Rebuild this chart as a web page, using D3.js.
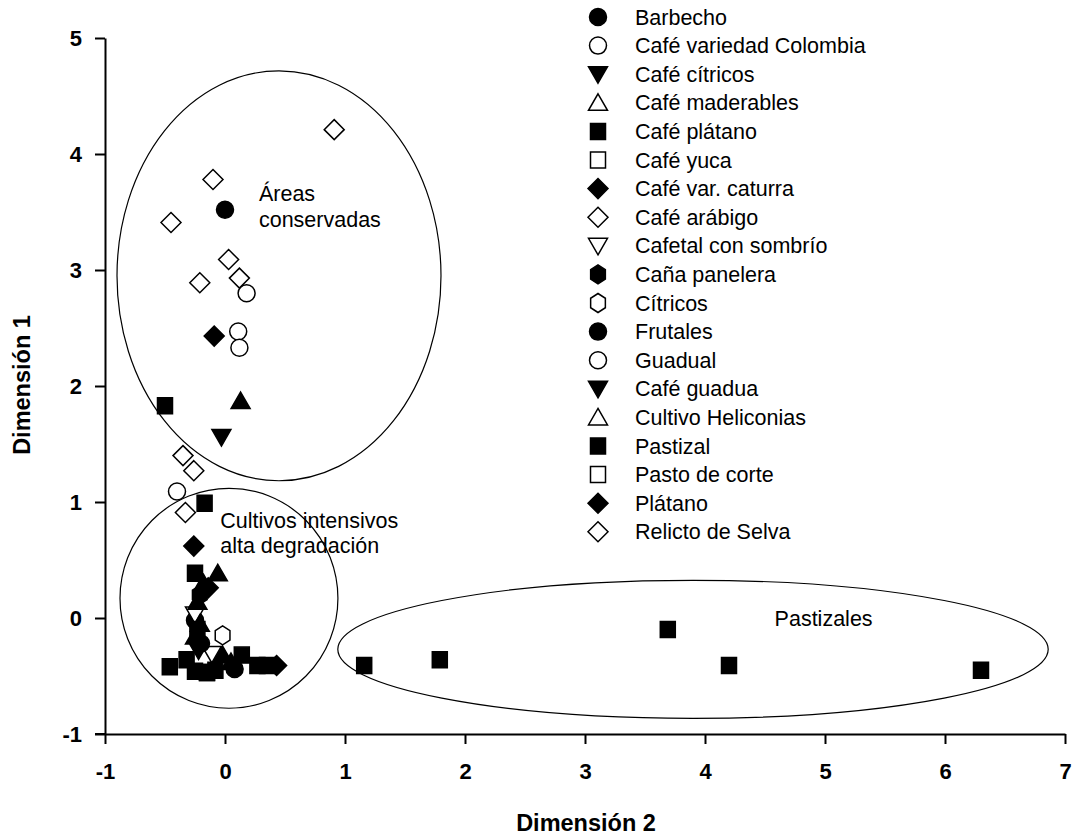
<!DOCTYPE html>
<html><head><meta charset="utf-8">
<script src="https://cdn.jsdelivr.net/npm/d3@7"></script>
<style>
body{margin:0;background:#fff;}
text{font-family:Arial,"Liberation Sans",sans-serif;}
</style></head>
<body><svg id="c" width="1072" height="837"></svg>
<script>
// ---- data ----
const seriesNames = ["Barbecho","Café variedad Colombia","Café cítricos","Café maderables","Café plátano","Café yuca","Café var. caturra","Café arábigo","Cafetal con sombrío","Caña panelera","Cítricos","Frutales","Guadual","Café guadua","Cultivo Heliconias","Pastizal","Pasto de corte","Plátano","Relicto de Selva"];
const seriesShapes = ["circle","circle","down","up","square","square","diamond","diamond","down","hex","hex","circle","circle","down","up","square","square","diamond","diamond"];
const seriesFilled = [true,false,true,false,true,false,true,false,false,true,false,true,false,true,false,true,false,true,false];
const seriesPoints = [
  [[0.0,3.52],[-0.25,-0.02]],
  [[0.18,2.80],[0.11,2.47],[0.12,2.33]],
  [[-0.03,1.56]],
  [],
  [[-0.50,1.83],[-0.17,0.99],[-0.25,0.385]],
  [[-0.15,-0.47]],
  [[-0.09,2.43],[-0.26,0.62],[-0.14,0.26]],
  [[0.91,4.21],[-0.10,3.78],[-0.45,3.41],[0.03,3.09],[-0.21,2.89],[0.12,2.93]],
  [[-0.25,0.03],[-0.11,-0.31]],
  [[-0.21,0.20]],
  [[-0.02,-0.15]],
  [[0.08,-0.44],[-0.20,-0.22]],
  [[-0.40,1.09]],
  [[-0.22,-0.28]],
  [],
  [[1.16,-0.41],[1.79,-0.36],[3.69,-0.10],[4.20,-0.41],[6.30,-0.45],[-0.46,-0.42],[-0.32,-0.36],[-0.15,-0.47],[-0.25,-0.46],[0.14,-0.32],[0.27,-0.41],[0.35,-0.41],[-0.23,-0.10],[-0.08,-0.45]],
  [],
  [[0.43,-0.41]],
  [[-0.35,1.40],[-0.26,1.27],[-0.33,0.91]]
];
// filled up-triangles drawn in the plot (not listed in legend)
const extraTriangles = [[0.13,1.87],[-0.06,0.385],[-0.23,0.14],[-0.18,0.30],[-0.25,-0.16],[-0.02,-0.32],[-0.21,-0.05],[0.05,-0.38]];
const xTicks = [-1,0,1,2,3,4,5,6,7];
const yTicks = [-1,0,1,2,3,4,5];
const ellipses = [ {cx:0.45, cy:2.95, rx:1.35, ry:1.767},
                   {cx:0.033, cy:0.17, rx:0.908, ry:0.948},
                   {cx:3.9, cy:-0.27, rx:2.96, ry:0.595} ];
const annotations = [ {x:0.283, y:3.595, t:"Áreas"}, {x:0.283, y:3.37, t:"conservadas"},
                      {x:-0.04, y:0.776, t:"Cultivos intensivos"}, {x:-0.04, y:0.56, t:"alta degradación"},
                      {x:4.58, y:-0.07, t:"Pastizales"} ];

// ---- chart ----
const svg = d3.select("#c");
const x = d3.scaleLinear().domain([-1,7]).range([105,1065]);
const y = d3.scaleLinear().domain([-1,5]).range([734,38]);

function shapePath(shape){
  switch(shape){
    case "circle": return d3.symbol().type(d3.symbolCircle).size(Math.PI*8.5*8.5)();
    case "square": return "M-7.5,-8H7.5V8H-7.5Z";
    case "diamond": return "M0,-10L10,0L0,10L-10,0Z";
    case "up": return "M0,-9L9.5,7.5L-9.5,7.5Z";
    case "down": return "M0,9L9.5,-7.5L-9.5,-7.5Z";
    case "hex": { const pts=[]; for(let i=0;i<6;i++){const a=Math.PI/2+i*Math.PI/3; pts.push([8.5*Math.cos(a),9.5*Math.sin(a)]);} return "M"+pts.map(p=>p.join(",")).join("L")+"Z"; }
  }
}

// ellipses
svg.append("g").selectAll("ellipse").data(ellipses).join("ellipse")
  .attr("cx",d=>x(d.cx)).attr("cy",d=>y(d.cy))
  .attr("rx",d=>x(d.cx+d.rx)-x(d.cx)).attr("ry",d=>y(d.cy)-y(d.cy+d.ry))
  .attr("fill","none").attr("stroke","#000").attr("stroke-width",1.2);

// annotations
svg.append("g").selectAll("text").data(annotations).join("text")
  .attr("x",d=>x(d.x)).attr("y",d=>y(d.y)).attr("font-size",21.5).text(d=>d.t);

// points
const pg = svg.append("g");
seriesPoints.forEach((pts,i)=>{
  if(i===15) drawExtra();
  pg.append("g").selectAll("path").data(pts).join("path")
    .attr("d",shapePath(seriesShapes[i]))
    .attr("transform",d=>`translate(${x(d[0])},${y(d[1])})`)
    .attr("fill",seriesFilled[i]?"#000":"#fff")
    .attr("stroke","#000").attr("stroke-width",1.5);
});
function drawExtra(){
  pg.append("g").selectAll("path").data(extraTriangles).join("path")
    .attr("d",shapePath("up"))
    .attr("transform",d=>`translate(${x(d[0])},${y(d[1])})`)
    .attr("fill","#000").attr("stroke","#000").attr("stroke-width",1.5);
}

// axes
const xa = svg.append("g").attr("transform","translate(0,734)")
  .call(d3.axisBottom(x).tickValues(xTicks).tickSize(10).tickSizeOuter(0).tickPadding(19).tickFormat(d3.format("d")));
const ya = svg.append("g").attr("transform","translate(105,0)")
  .call(d3.axisLeft(y).tickValues(yTicks).tickSize(10).tickSizeOuter(0).tickPadding(13).tickFormat(d3.format("d")));
[xa,ya].forEach(a=>{
  a.select(".domain").attr("stroke-width",2);
  a.selectAll(".tick line").attr("stroke-width",2);
  a.selectAll(".tick text").attr("font-size",22).attr("font-weight","bold")
   .attr("font-family","Arial, 'Liberation Sans', sans-serif").attr("fill","#000")
   .text(d=>d<0?"-"+Math.abs(d):d);
});
svg.append("line").attr("x1",95).attr("x2",105).attr("y1",734).attr("y2",734).attr("stroke","#000").attr("stroke-width",2);

// axis titles
svg.append("text").attr("x",586).attr("y",831).attr("text-anchor","middle")
  .attr("font-size",23.5).attr("font-weight","bold").text("Dimensión 2");
svg.append("text").attr("transform","translate(30,385) rotate(-90)").attr("text-anchor","middle")
  .attr("font-size",23.5).attr("font-weight","bold").text("Dimensión 1");

// legend
const lg = svg.append("g").selectAll("g").data(seriesNames).join("g")
  .attr("transform",(d,i)=>`translate(598,${17+i*28.6})`);
lg.append("path").attr("d",(d,i)=>shapePath(seriesShapes[i]))
  .attr("fill",(d,i)=>seriesFilled[i]?"#000":"#fff").attr("stroke","#000").attr("stroke-width",1.5);
lg.append("text").attr("x",37).attr("y",7.5).attr("font-size",21.5).text(d=>d);
</script></body></html>
